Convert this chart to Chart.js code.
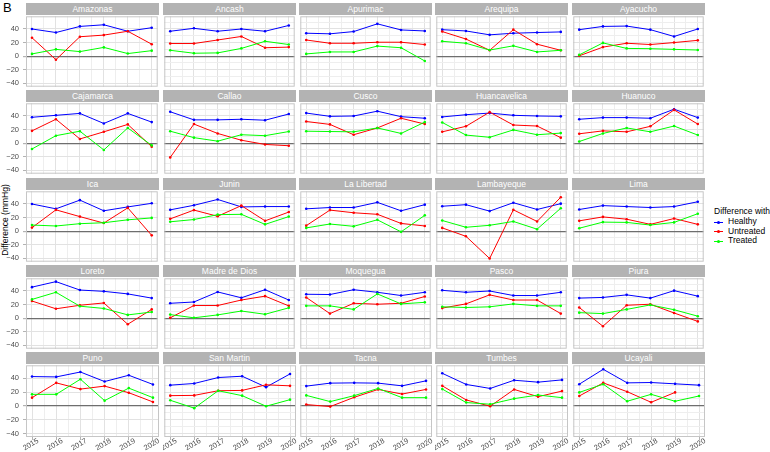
<!DOCTYPE html>
<html><head><meta charset="utf-8">
<script src="https://cdn.jsdelivr.net/npm/chart.js@4"></script>
<style>
body{margin:0;background:#fff;width:770px;height:452px;overflow:hidden;position:relative;font-family:"Liberation Sans",Arial,sans-serif;}
canvas{position:absolute;}
.strip{position:absolute;height:12px;background:#B3B3B3;color:#fff;font-size:8.5px;line-height:12px;text-align:center;white-space:nowrap;}
.tag{position:absolute;left:3px;top:0;font-size:13px;line-height:15px;color:#000;}
.ytitle{position:absolute;width:200px;left:-95px;top:214px;height:12px;line-height:12px;font-size:8.5px;text-align:center;transform:rotate(-90deg);color:#000;white-space:nowrap;}
.legend{position:absolute;left:714px;top:205px;width:60px;font-size:8.5px;color:#000;white-space:nowrap;}
.legend .t{height:12px;line-height:12px;}
.legend .it{position:relative;height:9.5px;line-height:9.5px;padding-left:14px;}
.legend .it .ln{position:absolute;left:0;top:4.5px;width:9px;height:1px;}
.legend .it .pt{position:absolute;left:3px;top:3.5px;width:3px;height:3px;border-radius:50%;}
</style></head><body>
<div class="tag">B</div>
<div class="ytitle">Difference (mmHg)</div>
<script>
// ---- data ----
const regions = ["Amazonas","Ancash","Apurimac","Arequipa","Ayacucho","Cajamarca","Callao","Cusco","Huancavelica","Huanuco","Ica","Junin","La Libertad","Lambayeque","Lima","Loreto","Madre de Dios","Moquegua","Pasco","Piura","Puno","San Martin","Tacna","Tumbes","Ucayali"];
const years = [2015,2016,2017,2018,2019,2020];
const seriesNames = ["Healthy","Untreated","Treated"];
const healthy = [
[40,34.8,43.8,46.2,36.7,41.9],
[36.7,41,36.7,40,36.7,45.2],
[33.8,32.9,36.2,47.6,38.6,37.1],
[39,37.1,31.4,33.8,34.8,35.7],
[39,43.8,44.3,39,29,40],
[38.1,41,43.8,29,43.8,31],
[46.2,34.3,34.3,35.2,33.8,42.9],
[44.3,39.5,40,47.1,39,36.7],
[38.6,41.9,44.3,41,40,39.5],
[35.2,37.6,37.6,36.7,50,37.6],
[40,32.9,45.7,30,35.7,41],
[31.4,38.1,46.7,35.7,36.2,36.2],
[32.9,34.8,34.8,42.4,30,39],
[36.7,39,29.5,41.9,31.9,40.5],
[31.9,37.6,36.2,34.8,36.2,43.3],
[45.7,53.8,41.4,39.5,35.7,29.5],
[21.9,23.8,38.6,30,41.9,26.7],
[35.2,34.8,41.9,38.1,33.3,38.1],
[41,38.1,40,33.3,33.3,38.1],
[29.5,30.5,34.3,29.5,40.5,32.4],
[42.4,41.9,49,35.2,44.3,31],
[30,32.4,41,42.9,27.1,46.2],
[28.6,32.9,33.3,32.9,29,36.2],
[47.1,31,25.2,37.1,34.3,37.6],
[31.4,52.9,33.3,33.8,31.9,30]
];
const untreated = [
[27.1,-5.2,28.6,31,36.7,17.6],
[18.6,18.6,23.8,29,12.4,13.3],
[23.8,19,19,20.5,20.5,17.1],
[36.2,25.2,8.6,39,17.6,8.6],
[0.5,13.3,19,17.1,20,23.3],
[18.1,35.2,6.2,16.7,27.6,-5.2],
[-21,28.1,14.3,4.3,-1.9,-3.8],
[31.9,27.6,12.4,22.4,36.7,28.1],
[16.7,24.8,45.7,26.7,25.2,8.1],
[13.8,18.1,16.7,24.8,49,28.1],
[5.2,31.4,21.4,11.9,34.3,-6.2],
[18.1,31,21.9,37.6,15.2,28.1],
[8.1,31,27.1,24.8,11.4,7.6],
[4.8,-7.6,-40.3,31.4,14.3,50],
[15.2,21,17.6,10,18.6,10],
[25.2,13.8,19,22.4,-9,12.9],
[0.5,18.6,18.6,26.7,32.4,18.1],
[30.5,6.7,21.9,20.5,21.9,31.9],
[14.8,21,34.3,26.7,26.7,6.7],
[15.7,-11.9,19,20.5,7.6,-4.8],
[11.9,33.3,24.3,28.6,19,5.7],
[14.8,15.2,21.9,22.4,30.5,29],
[1.9,-1,12.4,23.8,17.1,23.8],
[29,8.6,-0.5,23.8,13.3,21.4],
[14.3,33.3,20.5,5.2,19.5,null]
];
const treated = [
[3.3,10,6.7,12.9,3.8,8.1],
[8.6,4.3,4.8,11.4,21.9,17.1],
[3.3,6.2,6.2,14.8,12.4,-7.1],
[21.9,19,9,15.2,6.2,8.6],
[1.9,19.5,11.4,11,10,9],
[-8.6,11,17.6,-10,22.4,-3.3],
[17.6,8.1,2.9,12.4,11,17.1],
[17.6,17.1,16.7,22.4,14.3,31],
[30.5,11.9,8.6,19.5,12.4,14.8],
[2.4,14.3,22.4,16.7,25.2,11.9],
[9,7.6,11,12.4,16.7,19.5],
[13.8,17.1,24.3,24.8,10,21.4],
[4.8,10.5,7.1,16.7,-1,23.3],
[15.7,5.7,8.6,14.3,2.9,33.8],
[4.3,13.3,12.9,9,12.9,25.7],
[27.6,38.1,17.6,14.3,4.8,9],
[5.2,0.5,4.8,10.5,5.7,15.2],
[18.1,18.1,12.9,35.7,21,23.3],
[16.7,15.7,16.7,21,18.1,18.1],
[8.1,6.7,12.9,19.5,12.4,2.9],
[16.7,16.7,38.6,7.6,25.7,11.9],
[8.1,-3.3,21.9,14.8,-0.5,9],
[15.2,6.2,14.8,25.2,11.9,11.9],
[24.3,4.8,2.4,10.5,15.7,11.9],
[19.5,31.4,6.7,16.7,6.7,14.3]
];
const yTickLabels = [-40,-20,0,20,40];
const yGrid = [-40,-30,-20,-10,0,10,20,30,40,50];
const xGrid = [2015,2015.5,2016,2016.5,2017,2017.5,2018,2018.5,2019,2019.5,2020];

// ---- layout / style ----
const colors = ["#0000FF","#FF0000","#00FF00"];
const W = 133, H = 73, YAX = 26, XAX = 15, XPADR = 12;
const rowTop = [15,102,190,277,364];
const colLeft = [26,163,299,435,572];
const yMin = -45, yMax = 58.7, xMin = 2014.75, xMax = 2020.25;
const FONT = "'Liberation Sans', Arial, sans-serif";
Chart.defaults.font.family = FONT;

const borderPlugin = {
  id: 'panelBorder',
  afterDraw(chart){
    const {ctx, chartArea:a} = chart;
    ctx.save();
    ctx.strokeStyle = '#C6C6C6';
    ctx.lineWidth = 1;
    ctx.strokeRect(a.left+0.5, a.top+0.5, a.right-a.left-1, a.bottom-a.top-1);
    ctx.restore();
  }
};

const zeroPad = s => { s.paddingLeft = 0; s.paddingRight = 0; s.paddingTop = 0; s.paddingBottom = 0; };

regions.forEach((name, i) => {
  const r = Math.floor(i/5), c = i%5;
  const left = c===0 ? colLeft[c]-YAX : colLeft[c];
  const padR = r===4 ? XPADR : 0;
  const w = W + (c===0 ? YAX : 0) + padR, h = H + (r===4 ? XAX : 0);
  const strip = document.createElement('div');
  strip.className = 'strip';
  strip.style.left = colLeft[c]+'px';
  strip.style.top = (rowTop[r]-12)+'px';
  strip.style.width = W+'px';
  strip.textContent = name;
  document.body.appendChild(strip);

  const cv = document.createElement('canvas');
  cv.width = w; cv.height = h;
  cv.style.left = left+'px'; cv.style.top = rowTop[r]+'px';
  cv.style.width = w+'px'; cv.style.height = h+'px';
  document.body.appendChild(cv);

  const vals = [healthy[i], untreated[i], treated[i]];
  const ds = [2,1,0].map(k => ({
    label: seriesNames[k],
    data: years.map((y,j) => ({x:y, y:vals[k][j]})),
    borderColor: colors[k], backgroundColor: colors[k],
    borderWidth: 1, pointRadius: 1.3, pointBorderWidth: 0, pointHoverRadius: 0,
    tension: 0, spanGaps: false
  }));

  new Chart(cv, {
    type: 'line',
    data: {datasets: ds},
    options: {
      responsive: false, animation: false, devicePixelRatio: 1, events: [],
      layout: {padding: {left: 0, top: 0, bottom: 0, right: padR}},
      plugins: {legend: {display: false}, tooltip: {enabled: false}, title: {display: false}},
      scales: {
        x: {
          type: 'linear', min: xMin, max: xMax,
          afterBuildTicks: s => { s.ticks = xGrid.map(v => ({value: v})); },
          afterFit: s => { s.height = r===4 ? XAX : 0; zeroPad(s); },
          border: {display: false},
          grid: {
            color: ctx => Number.isInteger(ctx.tick && ctx.tick.value) ? '#E2E2E2' : '#EEEEEE',
            lineWidth: 1,
            drawTicks: r===4, tickLength: 3,
            tickColor: ctx => Number.isInteger(ctx.tick && ctx.tick.value) ? '#B3B3B3' : 'rgba(0,0,0,0)'
          },
          ticks: {
            display: r===4, autoSkip: false, maxRotation: 30, minRotation: 30,
            padding: -3.5, labelOffset: 6, color: '#4D4D4D', font: {size: 7.5, family: FONT},
            callback: v => years.includes(v) ? String(v) : ''
          }
        },
        y: {
          type: 'linear', min: yMin, max: yMax,
          afterBuildTicks: s => { s.ticks = yGrid.map(v => ({value: v})); },
          afterFit: s => { s.width = c===0 ? YAX : 0; zeroPad(s); },
          border: {display: false},
          grid: {
            color: ctx => {
              const v = ctx.tick && ctx.tick.value;
              if (v === 0) return '#6E6E6E';
              return yTickLabels.includes(v) ? '#E2E2E2' : '#EEEEEE';
            },
            lineWidth: ctx => (ctx.tick && ctx.tick.value === 0) ? 1.2 : 1,
            drawTicks: c===0, tickLength: 3,
            tickColor: ctx => yTickLabels.includes(ctx.tick && ctx.tick.value) ? '#B3B3B3' : 'rgba(0,0,0,0)'
          },
          ticks: {
            display: c===0, padding: 4, color: '#4D4D4D', font: {size: 7.5, family: FONT},
            callback: v => yTickLabels.includes(v) ? (v < 0 ? '\u2212' + Math.abs(v) : String(v)) : ''
          }
        }
      }
    },
    plugins: [borderPlugin]
  });
});

// legend
const lg = document.createElement('div');
lg.className = 'legend';
let html = '<div class="t">Difference with</div>';
seriesNames.forEach((n,k) => {
  html += '<div class="it"><span class="ln" style="background:'+colors[k]+'"></span><span class="pt" style="background:'+colors[k]+'"></span>'+n+'</div>';
});
lg.innerHTML = html;
document.body.appendChild(lg);
</script>
</body></html>
